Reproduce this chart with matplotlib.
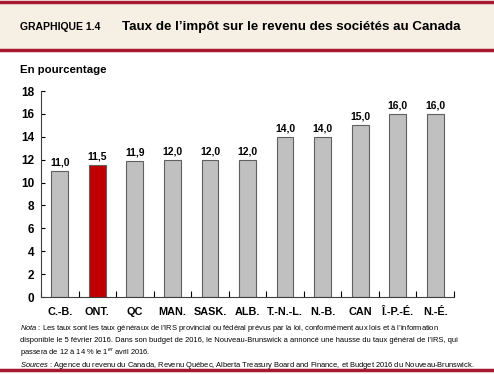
import matplotlib.pyplot as plt
from matplotlib.patches import Rectangle
from matplotlib.lines import Line2D

# données
provinces = ['C.-B.', 'ONT.', 'QC', 'MAN.', 'SASK.', 'ALB.', 'T.-N.-L.', 'N.-B.', 'CAN', 'Î.-P.-É.', 'N.-É.']
taux = [11.0, 11.5, 11.9, 12.0, 12.0, 12.0, 14.0, 14.0, 15.0, 16.0, 16.0]
couleurs = ['#C0C0C0', '#C00000'] + ['#C0C0C0'] * 9

plt.rcParams['font.family'] = ['Liberation Sans', 'DejaVu Sans']
plt.rcParams['mathtext.fontset'] = 'custom'
plt.rcParams['mathtext.rm'] = 'Liberation Sans'
plt.rcParams['mathtext.it'] = 'Liberation Sans:italic'

fig = plt.figure(figsize=(4.94, 3.74), dpi=100)

# bandeau du titre
fig.patches.append(Rectangle((0, 1 - 50 / 374), 1, 47 / 374, transform=fig.transFigure,
                             facecolor='#F6F0E4', edgecolor='none', zorder=0))
for y in [1 - 2 / 374, 1 - 50 / 374, 4 / 374]:
    fig.lines.append(Line2D([0, 1], [y, y], transform=fig.transFigure, color='#A6192E', lw=2.5))
fig.text(20 / 494, 1 - 27 / 374, 'GRAPHIQUE 1.4', fontsize=7.5, fontweight='bold', va='center')
fig.text(122 / 494, 1 - 27 / 374, 'Taux de l\u2019impôt sur le revenu des sociétés au Canada',
         fontsize=9.6, fontweight='bold', va='center')
fig.text(20 / 494, 1 - 70 / 374, 'En pourcentage', fontsize=8.2, fontweight='bold', va='center')

ax = fig.add_axes([41 / 494, 77 / 374, 413 / 494, 206 / 374])
x = range(len(provinces))
bars = ax.bar(x, taux, width=0.45, color=couleurs, edgecolor='#606060', linewidth=0.8)
for i, v in enumerate(taux):
    ax.text(i, v + 0.3, f'{v:.1f}'.replace('.', ','), ha='center', va='bottom',
            fontsize=7.5, fontweight='bold')

ax.set_xlim(-0.5, len(provinces) - 0.5)
ax.set_ylim(0, 18)
ax.set_yticks(range(0, 19, 2))
ax.set_xticks([i + 0.5 for i in range(-1, len(provinces))])
ax.set_xticklabels([])
ax.set_xticks(list(x), minor=True)
ax.set_xticklabels(provinces, minor=True, fontsize=7.8, fontweight='bold')
ax.tick_params(axis='x', which='minor', length=0, pad=7)
ax.tick_params(axis='x', which='major', direction='in', length=4, width=0.8)
ax.tick_params(axis='y', direction='in', length=3, labelsize=8.5, pad=5)
for lab in ax.get_yticklabels():
    lab.set_fontweight('bold')
ax.spines['top'].set_visible(False)
ax.spines['right'].set_visible(False)
ax.spines['left'].set_color('#404040')
ax.spines['bottom'].set_color('#404040')

# notes
notes = [
    "$\\it{Nota}$ : Les taux sont les taux généraux de l\u2019IRS provincial ou fédéral prévus par la loi, "
    "conformément aux lois et à l\u2019information",
    "disponible le 5 février 2016. Dans son budget de 2016, le Nouveau-Brunswick a annoncé une hausse "
    "du taux général de l\u2019IRS, qui",
    "passera de 12 à 14 % le 1$^{er}$ avril 2016.",
    "$\\it{Sources}$ : Agence du revenu du Canada, Revenu Québec, Alberta Treasury Board and Finance, "
    "et Budget 2016 du Nouveau-Brunswick.",
]
for k, ligne in enumerate(notes):
    fig.text(20 / 494, 1 - (328 + 12.5 * k) / 374, ligne, fontsize=5.4, va='center')

fig.savefig('out.png', dpi=100)
